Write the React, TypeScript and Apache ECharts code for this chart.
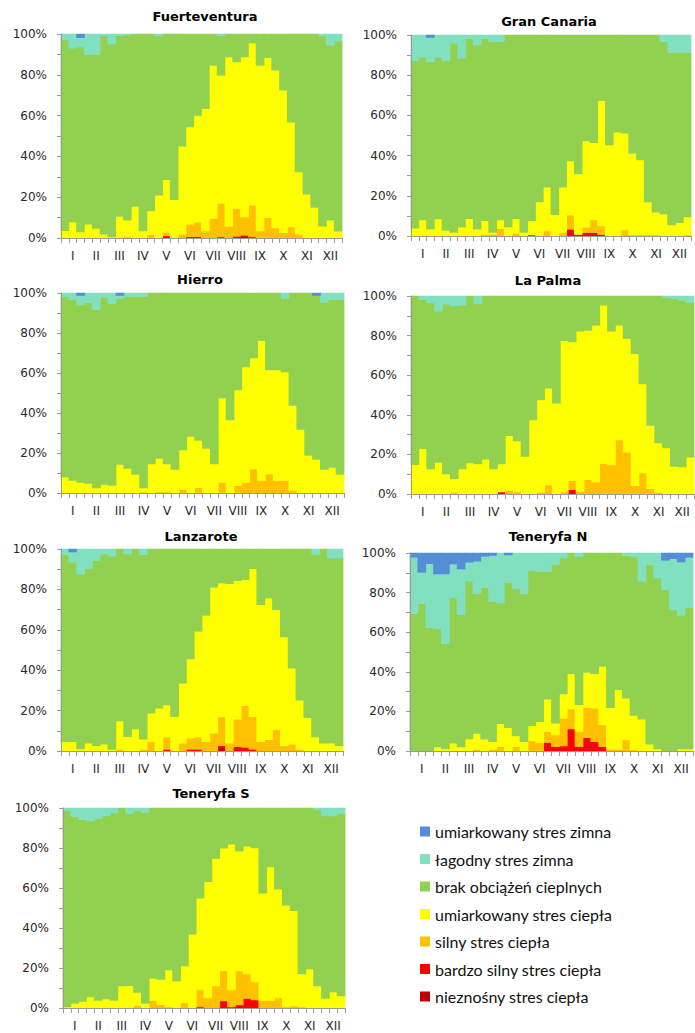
import React, { useEffect, useRef } from "react";
import * as echarts from "echarts";

// ---- categories / labels ----
const dekadLabels = ["", "I", "", "", "II", "", "", "III", "", "", "IV", "", "", "V", "", "", "VI", "", "", "VII", "", "", "VIII", "", "", "IX", "", "", "X", "", "", "XI", "", "", "XII", ""];
const classNames = ["umiarkowany stres zimna", "łagodny stres zimna", "brak obciążeń cieplnych", "umiarkowany stres ciepła", "silny stres ciepła", "bardzo silny stres ciepła", "nieznośny stres ciepła"];
const classColors = ["#558ED5", "#80E0C0", "#92D050", "#FFFF00", "#FFC000", "#FF0000", "#C00000"];
const stationNames = ["Fuerteventura", "Gran Canaria", "Hierro", "La Palma", "Lanzarote", "Teneryfa N", "Teneryfa S"];
const yTickLabels = ["0%", "20%", "40%", "60%", "80%", "100%"];

// ---- Fuerteventura ----
const fuBlue = [0, 0, 1.8, 0, 0, 0, 0, 0, 0, 0, 0, 0, 0, 0, 0, 0, 0, 0, 0, 0, 0, 0, 0, 0, 0, 0, 0, 0, 0, 0, 0, 0, 0, 0, 0, 0];
const fuTeal = [2.8, 7, 4.6, 10, 10, 1, 5, 0.8, 0.5, 0, 0, 0, 1, 0, 0, 0, 0, 0, 0, 0, 1, 0, 0, 0, 0, 0, 0, 0, 0, 0, 0, 0, 0, 1, 5.5, 3.4];
const fuGreen = [93.7, 85.2, 90.6, 83.3, 85.4, 97.2, 94.5, 88.6, 90.8, 84.5, 96.6, 86.8, 78, 71.4, 81.2, 55, 45.6, 40, 36.6, 15.4, 19.3, 11.3, 13.7, 11.3, 4.5, 15.4, 11.6, 17.8, 27.6, 43.3, 67.6, 78.6, 85.1, 93.3, 85.8, 93.3];
const fuYellow = [3.5, 7.8, 3, 6.7, 4.6, 1.8, 0.5, 10.3, 8.2, 15.5, 3.4, 11.6, 21, 25.8, 18.8, 43.2, 47.7, 52.3, 60, 75.1, 62.7, 83, 71.9, 78.4, 79.5, 81.2, 78.4, 77.3, 69.8, 51.3, 30.6, 21.4, 14.9, 5.7, 8.7, 3.3];
const fuOrange = [0, 0, 0, 0, 0, 0, 0, 0.3, 0.5, 0, 0, 1.6, 0, 1.8, 0, 1.8, 6.1, 7.1, 3.4, 9.5, 16.5, 5.7, 13.6, 9, 15.5, 3.4, 10, 4.9, 2.6, 5.4, 1.8, 0, 0, 0, 0, 0];
const fuRed = [0, 0, 0, 0, 0, 0, 0, 0, 0, 0, 0, 0, 0, 1, 0, 0, 0.6, 0.6, 0, 0, 0.5, 0, 0.8, 0.8, 0.5, 0, 0, 0, 0, 0, 0, 0, 0, 0, 0, 0];
const fuDark = [0, 0, 0, 0, 0, 0, 0, 0, 0, 0, 0, 0, 0, 0, 0, 0, 0, 0, 0, 0, 0, 0, 0, 0.5, 0, 0, 0, 0, 0, 0, 0, 0, 0, 0, 0, 0];

// ---- Gran Canaria ----
const gcBlue = [0, 0, 1.3, 0, 0, 0, 0, 0, 0, 0, 0, 0, 0, 0, 0, 0, 0, 0, 0, 0, 0, 0, 0, 0, 0, 0, 0, 0, 0, 0, 0, 0, 0, 0, 0, 0];
const gcTeal = [12.8, 11.1, 12, 11.1, 12.8, 4.1, 11.6, 1.7, 5, 1.7, 3.3, 3.3, 0, 0, 0, 0, 0, 0, 0, 0, 0, 0, 0, 0, 0, 0, 0, 0, 0, 0, 0, 0, 3.3, 8.8, 8.8, 8.8];
const gcGreen = [83.4, 80.9, 83.4, 80.4, 84.5, 94.1, 84.1, 89.7, 91.7, 90.7, 95, 88.7, 95.5, 91.4, 98.3, 92.4, 83.1, 75.8, 89.4, 75.8, 62.7, 69.2, 52.7, 53.6, 32.7, 54.7, 48.4, 48.9, 58.9, 62.2, 83.1, 88.2, 85.8, 85.7, 84.6, 81.7];
const gcYellow = [3.8, 8, 3.3, 8.5, 2.7, 1.8, 4.3, 8.6, 3.3, 6.8, 0.9, 4.4, 4.5, 7.3, 1.7, 7.1, 16.9, 21.7, 10.6, 22.5, 26.9, 30.1, 43, 38.4, 62.3, 45.3, 51.6, 48.1, 40.6, 37.3, 16.4, 11.3, 10.9, 5.5, 6.6, 9];
const gcOrange = [0, 0, 0, 0, 0, 0, 0, 0, 0, 0.8, 0.8, 3.6, 0, 1.3, 0, 0, 0, 2.5, 0, 1.7, 7.1, 0, 2.6, 6.3, 4.3, 0, 0, 3, 0.5, 0.5, 0.5, 0.5, 0, 0, 0, 0.5];
const gcRed = [0, 0, 0, 0, 0, 0, 0, 0, 0, 0, 0, 0, 0, 0, 0, 0.5, 0, 0, 0, 0, 3.3, 0.7, 1.7, 1.7, 0.7, 0, 0, 0, 0, 0, 0, 0, 0, 0, 0, 0];
const gcDark = [0, 0, 0, 0, 0, 0, 0, 0, 0, 0, 0, 0, 0, 0, 0, 0, 0, 0, 0, 0, 0, 0, 0, 0, 0, 0, 0, 0, 0, 0, 0, 0, 0, 0, 0, 0];

// ---- Hierro ----
const hiBlue = [0, 0, 1.3, 0, 0, 0, 0, 1.3, 0, 0, 0, 0, 0, 0, 0, 0, 0, 0, 0, 0, 0, 0, 0, 0, 0, 0, 0, 0, 0, 0, 0, 0, 1.3, 0, 0, 0];
const hiTeal = [2, 3.3, 4.7, 4.7, 8.3, 2, 5.3, 1.5, 1.7, 1.7, 1.7, 0, 0, 0, 0, 0, 0, 0, 0, 0, 0, 0, 0, 0, 0, 0, 0, 0, 2.8, 0, 0, 0, 0, 4.7, 3.3, 3.3];
const hiGreen = [90, 90.4, 88.7, 90.6, 89.2, 93.7, 91, 83, 86.1, 89.1, 95.8, 85.5, 82.7, 85.5, 88.3, 78.5, 71.8, 73.8, 77.8, 85.5, 52.5, 63.5, 48.5, 37, 32.5, 23.8, 38.5, 38.5, 36.7, 56.2, 68.3, 81.2, 81.9, 83.5, 84, 87.5];
const hiYellow = [8, 6.3, 5.3, 4.7, 2.5, 4.3, 3.7, 14.2, 12.2, 9.2, 2, 14.5, 16.8, 14, 11.7, 19.7, 28.2, 23.5, 22.2, 14.5, 42.2, 36.5, 47.8, 57.7, 55.5, 70, 52, 55.3, 54.3, 42.5, 31.7, 18.8, 16.8, 11.8, 12.7, 9.2];
const hiOrange = [0, 0, 0, 0, 0, 0, 0, 0, 0, 0, 0.5, 0, 0.5, 0.5, 0, 1.8, 0, 2.7, 0, 0, 5.3, 0, 3.7, 5.3, 12, 6.2, 9.5, 6.2, 6.2, 1.3, 0, 0, 0, 0, 0, 0];
const hiRed = [0, 0, 0, 0, 0, 0, 0, 0, 0, 0, 0, 0, 0, 0, 0, 0, 0, 0, 0, 0, 0, 0, 0, 0, 0, 0, 0, 0, 0, 0, 0, 0, 0, 0, 0, 0];
const hiDark = [0, 0, 0, 0, 0, 0, 0, 0, 0, 0, 0, 0, 0, 0, 0, 0, 0, 0, 0, 0, 0, 0, 0, 0, 0, 0, 0, 0, 0, 0, 0, 0, 0, 0, 0, 0];

// ---- La Palma ----
const lpBlue = [0, 0, 0, 0, 0, 0, 0, 0, 0, 0, 0, 0, 0, 0, 0, 0, 0, 0, 0, 0, 0, 0, 0, 0, 0, 0, 0, 0, 0, 0, 0, 0, 0, 0, 0, 0];
const lpTeal = [0, 1.8, 3.5, 7.7, 4.2, 5, 4.7, 0, 3.9, 0, 0, 0, 0, 0, 0, 0, 0, 0, 0, 0, 0, 0, 0, 0, 0, 0, 0, 0, 0, 0, 0, 0, 1, 1.3, 2.2, 3.4];
const lpGreen = [85.2, 75.4, 83.9, 76.4, 85.7, 87.3, 82.7, 84.4, 81, 82.4, 87.4, 84.9, 70.6, 73.2, 81, 62.6, 52.5, 46.6, 54.2, 22.6, 23.2, 17.8, 17.4, 14.8, 4.7, 17.8, 14.8, 21.5, 29.2, 44.5, 65.4, 74.3, 75.8, 84.8, 84.2, 78.1];
const lpYellow = [14.8, 22.8, 12.6, 15.9, 10.1, 6.9, 12.6, 15.6, 15.1, 17.6, 12.6, 14.1, 27.7, 25.8, 19, 37.4, 46.7, 48.9, 45.8, 76.4, 70.1, 80.9, 75.4, 79.2, 80, 67.6, 57.9, 57.4, 66.6, 44.9, 31.9, 25, 23.2, 13.9, 13.6, 18.5];
const lpOrange = [0, 0, 0, 0, 0, 0.8, 0, 0, 0, 0, 0, 0, 1.7, 1, 0, 0, 0.8, 4.5, 0, 1, 4.5, 1.3, 7.2, 6, 15.3, 14.6, 27.3, 21.1, 4.2, 10.6, 2.7, 0.7, 0, 0, 0, 0];
const lpRed = [0, 0, 0, 0, 0, 0, 0, 0, 0, 0, 0, 1, 0, 0, 0, 0, 0, 0, 0, 0, 2.2, 0, 0, 0, 0, 0, 0, 0, 0, 0, 0, 0, 0, 0, 0, 0];
const lpDark = [0, 0, 0, 0, 0, 0, 0, 0, 0, 0, 0, 0, 0, 0, 0, 0, 0, 0, 0, 0, 0, 0, 0, 0, 0, 0, 0, 0, 0, 0, 0, 0, 0, 0, 0, 0];

// ---- Lanzarote ----
const laBlue = [0, 1.5, 0, 0, 0, 0, 0, 0, 0, 0, 0, 0, 0, 0, 0, 0, 0, 0, 0, 0, 0, 0, 0, 0, 0, 0, 0, 0, 0, 0, 0, 0, 0, 0, 0, 0];
const laTeal = [2.8, 5.1, 12.4, 9.8, 5.8, 2.5, 3.6, 0, 2.5, 0, 2.8, 0, 0, 0, 0, 0, 0, 0, 0, 0, 0, 0, 0, 0, 0, 0, 0, 0, 0, 0, 0, 0, 2.8, 0, 4.5, 4.5];
const laGreen = [92.6, 88.8, 86.6, 86.4, 91.6, 94.2, 95.6, 85.1, 90.4, 89.1, 91.4, 81.3, 78.8, 77.2, 83.1, 66.4, 54.4, 40.8, 32.9, 19, 16.9, 17.2, 15.7, 15.2, 9.8, 27.6, 24.3, 30.1, 43.6, 59, 74.9, 83.5, 90.3, 96.2, 91.7, 92.9];
const laYellow = [4.6, 4.6, 1, 3.8, 2.6, 3.3, 0.8, 14.1, 7.1, 10.9, 5, 14.1, 21.2, 15.9, 16.9, 29.8, 39.3, 52.3, 62.5, 72.2, 66.2, 79, 68.6, 62.3, 73.3, 67.8, 70.1, 59.2, 53.8, 37.7, 24.3, 16.5, 6.9, 3.8, 3.8, 2.6];
const laOrange = [0, 0, 0, 0, 0, 0, 0, 0.8, 0, 0, 0.8, 4.6, 0, 6.1, 0, 3.8, 5.5, 6.1, 4.6, 8.8, 14.3, 3.8, 13.6, 20.7, 16.1, 4.6, 5.6, 10.7, 2.6, 3.3, 0.8, 0, 0, 0, 0, 0];
const laRed = [0, 0, 0, 0, 0, 0, 0, 0, 0, 0, 0, 0, 0, 0.8, 0, 0, 0.8, 0.8, 0, 0, 1.1, 0, 1.6, 1.8, 0.8, 0, 0, 0, 0, 0, 0, 0, 0, 0, 0, 0];
const laDark = [0, 0, 0, 0, 0, 0, 0, 0, 0, 0, 0, 0, 0, 0, 0, 0, 0, 0, 0, 0, 1.5, 0, 0.5, 0, 0, 0, 0, 0, 0, 0, 0, 0, 0, 0, 0, 0];

// ---- Teneryfa N ----
const tnBlue = [2.2, 9.8, 5.4, 10.6, 10.6, 5.6, 8.1, 4.7, 4.2, 1.7, 1.3, 0, 1, 0, 0, 0, 0, 0, 0, 0, 0, 0, 0, 0, 0, 0, 0, 0, 0, 0, 0, 0, 3.7, 2.9, 4.6, 2.2];
const tnTeal = [28.3, 15.7, 32.2, 27.7, 35.3, 17.2, 23.1, 9.6, 16.4, 15.7, 23.2, 25.3, 14.2, 18.1, 20.7, 8.8, 9.3, 9.3, 5.9, 2.5, 0, 2, 0, 0, 0, 0, 0, 1.2, 2, 14.3, 5.9, 12.6, 14.8, 25.8, 26.9, 25.3];
const tnGreen = [69.5, 74.5, 62.4, 59.7, 53.1, 73.3, 66.8, 79.6, 70.5, 76.7, 70.8, 61, 73, 74.3, 74.6, 78.4, 75.9, 64.6, 80.1, 68.7, 61, 74.7, 60.4, 61, 57.3, 78.1, 69.1, 72.2, 80.1, 69.7, 90.7, 86.4, 81.5, 71.3, 67.5, 71.5];
const tnYellow = [0, 0, 0, 2, 1, 3.9, 2, 6.1, 8.1, 5.9, 3.9, 11.5, 11.8, 5.4, 4.7, 7.7, 10.6, 16.3, 5.9, 12.3, 17.8, 13.5, 17.7, 17.4, 29.5, 21.1, 30.1, 21, 17.4, 16, 3.4, 1, 0, 0, 1, 1];
const tnOrange = [0, 0, 0, 0, 0, 0, 0, 0, 0.8, 0, 0.8, 2.2, 0, 2.2, 0, 5.1, 4.2, 5.6, 5.9, 14, 10.1, 7.6, 15.2, 16.9, 11, 0.8, 0.8, 5.6, 0.5, 0, 0, 0, 0, 0, 0, 0];
const tnRed = [0, 0, 0, 0, 0, 0, 0, 0, 0, 0, 0, 0, 0, 0, 0, 0, 0, 4.2, 2.2, 2.5, 11.1, 2.2, 6.7, 4.7, 2.2, 0, 0, 0, 0, 0, 0, 0, 0, 0, 0, 0];
const tnDark = [0, 0, 0, 0, 0, 0, 0, 0, 0, 0, 0, 0, 0, 0, 0, 0, 0, 0, 0, 0, 0, 0, 0, 0, 0, 0, 0, 0, 0, 0, 0, 0, 0, 0, 0, 0];

// ---- Teneryfa S ----
const tsBlue = [0, 0, 0, 0, 0, 0, 0, 0, 0, 0, 0, 0, 0, 0, 0, 0, 0, 0, 0, 0, 0, 0, 0, 0, 0, 0, 0, 0, 0, 0, 0, 0, 0, 0, 0, 0];
const tsTeal = [1.2, 4.2, 5.7, 6.5, 5.3, 4, 2.5, 0, 2.8, 1.5, 2.3, 0, 0, 0, 0, 0, 0, 0, 0, 0, 0, 0, 0, 0, 0, 0, 0, 0, 0, 0, 0, 0, 0.8, 4, 4, 2.8];
const tsGreen = [98.3, 93.5, 91, 88, 91, 91.5, 93.8, 89, 86.1, 90.7, 95.4, 85.2, 85.7, 81, 86.5, 79, 63.1, 45.1, 36.9, 25.3, 20.1, 18.1, 21.6, 19.1, 20, 42.6, 29.5, 40.6, 48.6, 51.4, 83, 80.5, 88.2, 91.2, 88, 91.2];
const tsYellow = [0.5, 2.3, 3.3, 5.5, 3.7, 4.5, 3.7, 11, 11.1, 6.5, 2.3, 11.1, 12.6, 18.5, 13.5, 18.3, 36.9, 45.9, 58.1, 63.7, 61.3, 72.9, 59.9, 63.9, 67, 53.7, 66.8, 54.4, 50.9, 47.6, 16.5, 19.5, 11, 4.8, 8, 6];
const tsOrange = [0, 0, 0, 0, 0, 0, 0, 0, 0, 1.3, 0, 3.7, 1.7, 0.5, 0, 2.7, 0, 8.5, 5, 11, 15.1, 8.5, 17, 12.3, 9, 3.7, 3.7, 5, 0.5, 1, 0.5, 0, 0, 0, 0, 0];
const tsRed = [0, 0, 0, 0, 0, 0, 0, 0, 0, 0, 0, 0, 0, 0, 0, 0, 0, 0.5, 0, 0, 3.5, 0.5, 1.5, 4.7, 4, 0, 0, 0, 0, 0, 0, 0, 0, 0, 0, 0];
const tsDark = [0, 0, 0, 0, 0, 0, 0, 0, 0, 0, 0, 0, 0, 0, 0, 0, 0, 0, 0, 0, 0, 0, 0, 0, 0, 0, 0, 0, 0, 0, 0, 0, 0, 0, 0, 0];

// series per station, ordered as classNames
const stationSeries = [
  [fuBlue, fuTeal, fuGreen, fuYellow, fuOrange, fuRed, fuDark],
  [gcBlue, gcTeal, gcGreen, gcYellow, gcOrange, gcRed, gcDark],
  [hiBlue, hiTeal, hiGreen, hiYellow, hiOrange, hiRed, hiDark],
  [lpBlue, lpTeal, lpGreen, lpYellow, lpOrange, lpRed, lpDark],
  [laBlue, laTeal, laGreen, laYellow, laOrange, laRed, laDark],
  [tnBlue, tnTeal, tnGreen, tnYellow, tnOrange, tnRed, tnDark],
  [tsBlue, tsTeal, tsGreen, tsYellow, tsOrange, tsRed, tsDark],
];

// ---- layout (pixels) ----
const panelLayout = [
  { left: 61, top: 34, width: 281, height: 204, tx: 205, ty: 16 },
  { left: 411, top: 35, width: 280, height: 201, tx: 549, ty: 21 },
  { left: 61, top: 293, width: 283, height: 200, tx: 200, ty: 279 },
  { left: 411, top: 296, width: 283, height: 198, tx: 548, ty: 280 },
  { left: 61, top: 549, width: 282, height: 202, tx: 201, ty: 536 },
  { left: 410, top: 553, width: 283, height: 198, tx: 548, ty: 536 },
  { left: 63, top: 808, width: 282, height: 200, tx: 211, ty: 793 },
];

const AXIS_COLOR = "#9a9a9a";
const TEXT_COLOR = "#2a2a2a";

export default function App() {
  const ref = useRef<HTMLDivElement>(null);

  useEffect(() => {
    if (!ref.current) return;
    const chart = echarts.init(ref.current, undefined, { renderer: "svg" });

    const grids = panelLayout.map((p) => ({ left: p.left, top: p.top, width: p.width, height: p.height, containLabel: false }));
    const xAxes = panelLayout.map((_, i) => ({
      type: "category",
      gridIndex: i,
      data: dekadLabels,
      boundaryGap: true,
      z: 5,
      axisLine: { show: true, lineStyle: { color: AXIS_COLOR, width: 1 } },
      axisTick: { show: true, interval: 0, alignWithLabel: false, length: 5, lineStyle: { color: AXIS_COLOR } },
      axisLabel: { interval: 0, margin: 12, fontSize: 12, fontFamily: "DejaVu Sans", color: TEXT_COLOR },
      splitLine: { show: false },
    }));
    const yAxes = panelLayout.map((_, i) => ({
      type: "value",
      gridIndex: i,
      min: 0,
      max: 100,
      interval: 10,
      z: 5,
      axisLine: { show: true, lineStyle: { color: AXIS_COLOR, width: 1 } },
      axisTick: { show: true, length: 4, lineStyle: { color: AXIS_COLOR } },
      axisLabel: {
        margin: 14,
        fontSize: 12,
        fontFamily: "DejaVu Sans",
        color: TEXT_COLOR,
        formatter: (v: number) => (v % 20 === 0 ? yTickLabels[v / 20] : ""),
      },
      splitLine: { show: false },
    }));

    // stacked from the bottom: nieznośny ... umiarkowany stres zimna
    const stackOrder = [6, 5, 4, 3, 2, 1, 0];
    const series: any[] = [];
    stationSeries.forEach((arrs, g) => {
      const base = arrs[0].map(() => 0);
      stackOrder.forEach((c) => {
        const rows = arrs[c].map((v, i) => [i, base[i], base[i] + v]);
        arrs[c].forEach((v, i) => {
          base[i] += v;
        });
        const color = classColors[c];
        series.push({
          type: "custom",
          name: classNames[c],
          xAxisIndex: g,
          yAxisIndex: g,
          data: rows,
          encode: { x: 0, y: [1, 2] },
          itemStyle: { color },
          silent: true,
          renderItem: (_params: any, api: any) => {
            const lo = api.value(1);
            const hi = api.value(2);
            if (!(hi > lo)) return null;
            const idx = api.value(0);
            const pTop = api.coord([idx, hi]);
            const pBot = api.coord([idx, lo]);
            const w = api.size([1, 0])[0];
            // slight overlap with the neighbours avoids anti-aliasing seams
            return {
              type: "rect",
              shape: { x: pTop[0] - w / 2 - 0.4, y: pTop[1] - 0.25, width: w + 0.8, height: pBot[1] - pTop[1] + 0.5 },
              style: { fill: color },
            };
          },
        });
      });
    });

    const titles = panelLayout.map((p, i) => ({
      type: "text",
      x: p.tx,
      y: p.ty,
      style: {
        text: stationNames[i],
        align: "center",
        verticalAlign: "middle",
        textAlign: "center",
        textVerticalAlign: "middle",
        font: 'bold 13px "DejaVu Sans"',
        fill: "#000000",
      },
    }));

    chart.setOption({
      animation: false,
      backgroundColor: "#ffffff",
      color: classColors,
      grid: grids,
      xAxis: xAxes,
      yAxis: yAxes,
      series,
      graphic: titles,
      legend: {
        data: classNames.map((n, i) => ({ name: n, icon: "rect", itemStyle: { color: classColors[i], borderWidth: 0 } })),
        orient: "vertical",
        left: 415,
        top: 818,
        icon: "rect",
        itemWidth: 10,
        itemHeight: 10,
        itemGap: 10.5,
        selectedMode: false,
        textStyle: { fontFamily: "Lato", fontSize: 16, lineHeight: 17, color: "#111111" },
      },
    });

    return () => chart.dispose();
  }, []);

  return <div ref={ref} style={{ position: "absolute", left: 0, top: 0, width: 695, height: 1033, background: "#fff" }} />;
}
